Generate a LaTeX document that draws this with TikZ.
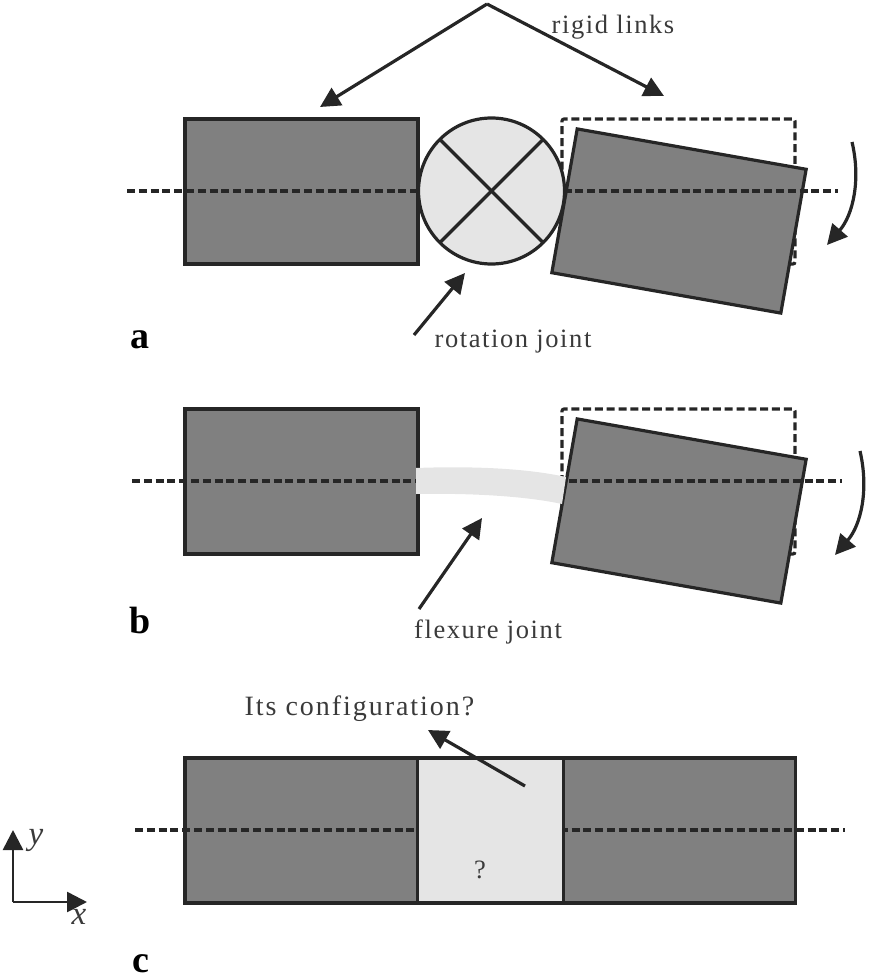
\documentclass[tikz,border=0pt]{standalone}
\usepackage{fontspec}
\setmainfont{Liberation Serif}
\newfontfamily\spaced[LetterSpace=6]{Liberation Serif}
\newfontfamily\spacedwide[LetterSpace=7]{Liberation Serif}
\usetikzlibrary{arrows.meta,calc}
\definecolor{ink}{HTML}{262626}
\definecolor{linkgray}{HTML}{808080}
\definecolor{jointgray}{HTML}{E5E5E5}
\definecolor{txt}{HTML}{3A3A3A}
\tikzset{
  frame/.style={draw=ink,line width=3.2pt,fill=linkgray,inner sep=0pt,outer sep=0pt,minimum width=233pt,minimum height=145pt},
  tiltframe/.style={frame,rotate=-10,minimum width=232.5pt,minimum height=146pt},
  jointbox/.style={draw=ink,line width=3.2pt,fill=jointgray,inner sep=0pt,outer sep=0pt,minimum width=146pt,minimum height=145pt},
  axisline/.style={draw=ink,line width=3.1pt,dash pattern=on 8pt off 3.8pt},
  ghost/.style={draw=ink,line width=3.1pt,dash pattern=on 8pt off 3.8pt,rounded corners=2pt},
  pointer/.style={draw=ink,line width=3.2pt,-{Triangle[length=20pt,width=20pt]}},
  lbl/.style={font=\fontsize{26.5}{29}\selectfont\spaced,text=txt,inner sep=0pt},
  lblwide/.style={font=\fontsize{28}{30}\selectfont\spacedwide,text=txt,inner sep=0pt},
  panel/.style={font=\fontsize{38}{40}\selectfont\bfseries,text=black,inner sep=0pt},
  axlbl/.style={font=\fontsize{33}{35}\selectfont\itshape,text=txt,inner sep=0pt}
}
\begin{document}
\begin{tikzpicture}[x=1pt,y=-1pt]
\useasboundingbox (0,0) rectangle (874,979);
% top pointers
\coordinate (apex) at (487,4);
\coordinate (tipL) at (320,107);
\coordinate (tipR) at (664,96);
\draw[pointer] (apex) -- (tipL);
\draw[pointer] (apex) -- (tipR);
\node[lbl] (rigid) at (613,27) {rigid links};
% panel a
\draw[ghost] (562,264) -- (562,119) -- (795,119) -- (795,264) -- (780,264);
\node[frame] (a1) at (301.5,191.5) {};
\node[tiltframe] (a2) at (679,221) {};
\coordinate (aL) at (127,191);
\coordinate (aR) at (838,191);
\draw[axisline] (aL) -- (aR);
\node[circle,draw=ink,line width=3.2pt,fill=jointgray,minimum size=146pt,inner sep=0pt,outer sep=0pt] (ajoint) at (491.5,191) {};
\draw[draw=ink,line width=3.2pt] (ajoint.45) -- (ajoint.225);
\draw[draw=ink,line width=3.2pt] (ajoint.135) -- (ajoint.315);
\coordinate (aS) at (852,142);
\coordinate (aE) at (827,245);
\draw[pointer] (aS) .. controls (861,180) and (853,215) .. (aE);
\coordinate (rjS) at (414,335);
\coordinate (rjE) at (465,273);
\draw[pointer] (rjS) -- (rjE);
\node[lbl] (rj) at (513,342) {rotation joint};
\node[panel] (pa) at (140,340) {a};
% panel b
\draw[ghost] (562,554) -- (562,409) -- (795,409) -- (795,554) -- (780,554);
\node[frame] (b1) at (301.5,481.5) {};
\node[tiltframe] (b2) at (679,511) {};
\coordinate (bL) at (132,481);
\coordinate (bR) at (842,481);
\draw[axisline] (bL) -- (bR);
\fill[jointgray] (416,468) .. controls (470,466) and (525,468) .. (566,477) -- (562,504) .. controls (525,496) and (470,493) .. (416,494) -- cycle;
\coordinate (bS) at (860,451);
\coordinate (bE) at (835,555);
\draw[pointer] (bS) .. controls (869,490) and (861,525) .. (bE);
\coordinate (fjS) at (419,609);
\coordinate (fjE) at (482,518);
\draw[pointer] (fjS) -- (fjE);
\node[lbl] (fj) at (488,632) {flexure joint};
\node[panel] (pb) at (140,620) {b};
% panel c
\coordinate (cL) at (135,830);
\coordinate (cR) at (845,830);
\node[frame] (c1) at (301.5,830.5) {};
\node[frame] (c2) at (679,830.5) {};
\draw[axisline] (cL) -- (cR);
\node[jointbox] (cmid) at (490.5,830.5) {};
\node[lbl] (q) at (480,870) {?};
\coordinate (cS) at (525,786);
\coordinate (cE) at (428,730);
\draw[pointer] (cS) -- (cE);
\node[lblwide] (cfg) at (359.5,709) {Its configuration?};
\node[panel] (pc) at (141,964) {c};
% axes
\coordinate (o) at (13,902);
\coordinate (yTip) at (13,830);
\coordinate (xTip) at (87,902);
\draw[pointer,line width=2.6pt] (o) -- (yTip);
\draw[pointer,line width=2.6pt] (o) -- (xTip);
\node[axlbl] (ylab) at (36,840) {y};
\node[axlbl] (xlab) at (79,917) {x};
\end{tikzpicture}
\end{document}
